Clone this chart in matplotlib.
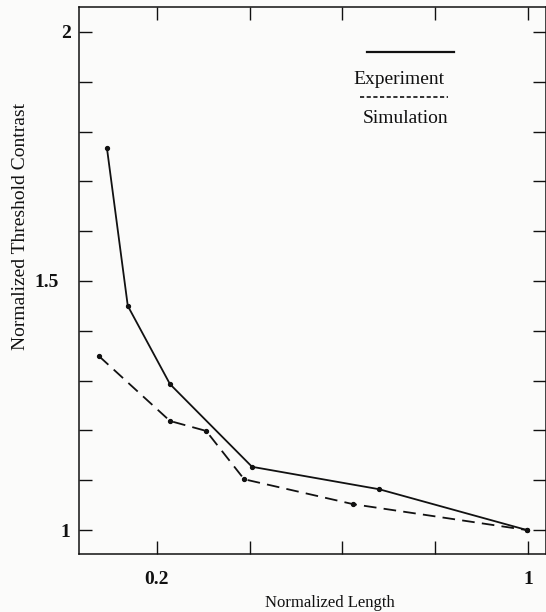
import matplotlib
matplotlib.use("Agg")
import matplotlib.pyplot as plt
import matplotlib.transforms as mtransforms

# values
exp_x = [0.092, 0.137, 0.228, 0.405, 0.679, 0.998]
exp_y = [1.767, 1.450, 1.293, 1.127, 1.082, 1.000]
sim_x = [0.075, 0.228, 0.306, 0.388, 0.623, 0.998]
sim_y = [1.349, 1.219, 1.199, 1.102, 1.052, 1.000]

x_ticks = [0.2, 0.4, 0.6, 0.8, 1.0]
x_labels = ["0.2", "", "", "", "1"]
y_ticks = [1.0, 1.1, 1.2, 1.3, 1.4, 1.5, 1.6, 1.7, 1.8, 1.9, 2.0]
y_labels = ["1", "", "", "", "", "1.5", "", "", "", "", "2"]

INK = "#111111"
plt.rcParams.update({
    "font.family": ["Liberation Serif", "DejaVu Serif"],
    "axes.edgecolor": INK,
    "axes.linewidth": 1.1,
})

fig = plt.figure(figsize=(5.46, 6.12), dpi=100, facecolor="#fbfbfa")
ax = fig.add_axes([0.1447, 0.0948, 0.8553, 0.8938], facecolor="#fbfbfa")

ax.plot(exp_x, exp_y, color=INK, lw=1.3, marker="o", ms=2.8)
ax.plot(sim_x, sim_y, color=INK, lw=1.3, ls=(0, (7, 4)), marker="o", ms=2.8)

ax.set_xlim(0.0318, 1.039)
ax.set_ylim(0.952, 2.050)
ax.set_xticks(x_ticks)
ax.set_xticklabels(x_labels, fontsize=14, fontweight="bold")
ax.set_yticks(y_ticks)
ax.set_yticklabels(y_labels, fontsize=14, fontweight="bold")
ax.tick_params(direction="in", length=9.5, width=1.0, top=True, right=True,
               color=INK, labelcolor=INK)
ax.tick_params(axis="x", pad=12)
ax.tick_params(axis="y", pad=6)

# the scan has "1.5" sitting further left than the other labels
for lab in ax.get_yticklabels():
    if lab.get_text() == "1.5":
        lab.set_transform(lab.get_transform() +
                          mtransforms.ScaledTranslation(-0.12, 0, fig.dpi_scale_trans))

ax.set_xlabel("Normalized Length", fontsize=12, color=INK)
ax.xaxis.set_label_coords(0.537, -0.075)
ax.set_ylabel("Normalized Threshold Contrast", fontsize=14, color=INK)
ax.yaxis.set_label_coords(-0.108, 0.598)

# hand-drawn style key in the upper right
ax.plot([0.617, 0.803], [0.918, 0.918], transform=ax.transAxes, color=INK, lw=1.6)
ax.text(0.685, 0.867, "Experiment", transform=ax.transAxes, ha="center", va="center",
        fontsize=14, color=INK)
ax.plot([0.602, 0.790], [0.835, 0.835], transform=ax.transAxes, color=INK, lw=1.2,
        ls=(0, (2.5, 1.5)))
ax.text(0.700, 0.797, "Simulation", transform=ax.transAxes, ha="center", va="center",
        fontsize=14, color=INK)

fig.savefig("out.png", dpi=100, facecolor=fig.get_facecolor())
